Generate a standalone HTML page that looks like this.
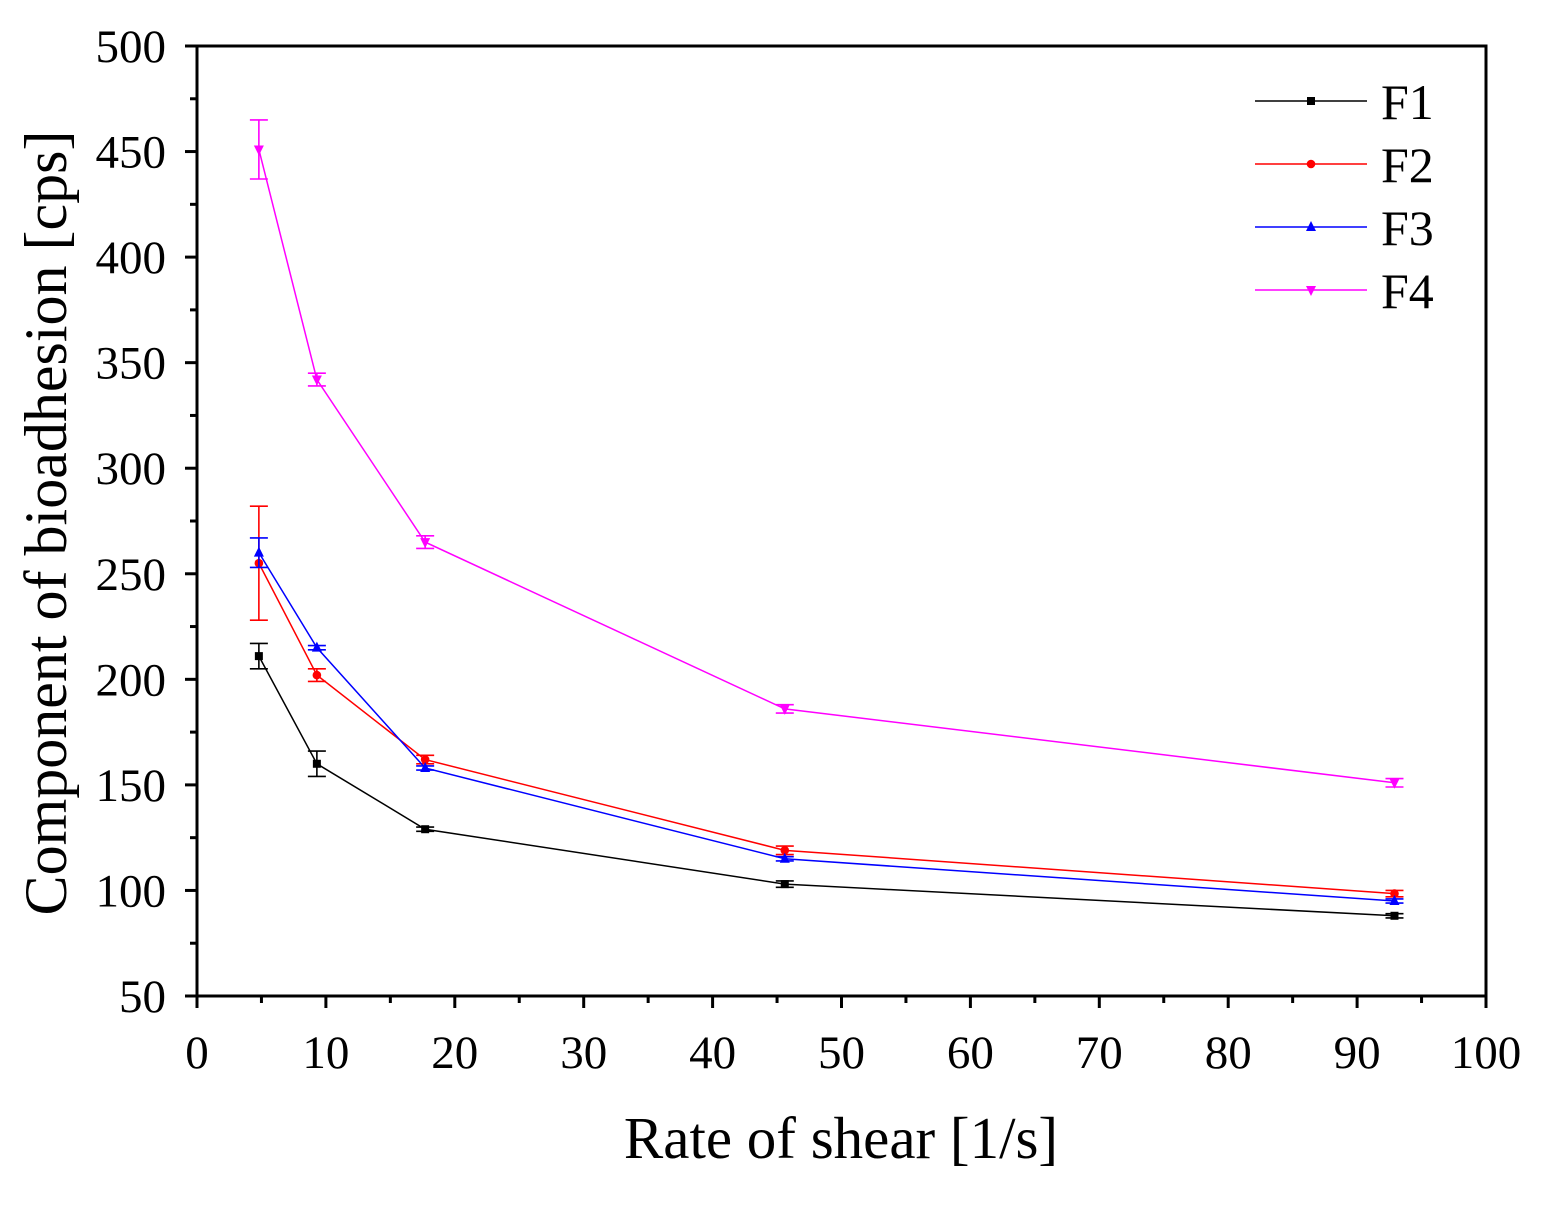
<!DOCTYPE html>
<html><head><meta charset="utf-8"><style>body{margin:0;background:#fff}svg{display:block}</style></head>
<body>
<svg id="chart" width="1560" height="1211" xmlns="http://www.w3.org/2000/svg" font-family="Liberation Serif, serif">
<g id="g"></g>
</svg>
<script>
const xVals=[4.8,9.3,17.7,45.6,92.9];
const f1=[211,160,129,103,88];
const f1Err=[6,6,1,1.5,1];
const f2=[255,202,162,119,98.5];
const f2Err=[27,3,2,2,1.5];
const f3=[260,215,158,115,95];
const f3Err=[7,1,1,1,1];
const f4=[451,342,265,186,151];
const f4Err=[14,3,3,2,2];
const xTicks=[0,10,20,30,40,50,60,70,80,90,100];
const yTicks=[50,100,150,200,250,300,350,400,450,500];
const seriesNames=["F1","F2","F3","F4"];
const colors=["#000","#f00","#00f","#f0f"];
const X0=197,X1=1486,Y0=996,Y1=46;
const sx=v=>X0+(v-0)/(100-0)*(X1-X0);
const sy=v=>Y0-(v-50)/(500-50)*(Y0-Y1);
const g=document.getElementById('g');
const NS="http://www.w3.org/2000/svg";
function el(t,a,p){const e=document.createElementNS(NS,t);for(const k in a)e.setAttribute(k,a[k]);(p||g).appendChild(e);return e;}
let fr=el('rect',{x:X0,y:Y1,width:X1-X0,height:Y0-Y1,fill:'none',stroke:'#000','stroke-width':3});


for(let v=0;v<=100;v+=5){const major=v%10===0;const l=el('line',{x1:sx(v),x2:sx(v),y1:Y0,y2:Y0+(major?12:7),stroke:'#000','stroke-width':3});

}
xTicks.forEach(v=>{const t=el('text',{x:sx(v),y:1068,'font-size':47,'text-anchor':'middle'});t.textContent=v;

});
for(let v=50;v<=500;v+=25){const major=v%50===0;const l=el('line',{x1:X0,x2:X0-(major?12:7),y1:sy(v),y2:sy(v),stroke:'#000','stroke-width':3});

}
yTicks.forEach(v=>{const t=el('text',{x:166,y:sy(v)+16,'font-size':47,'text-anchor':'end'});t.textContent=v;

});
let xt=el('text',{x:841,y:1158,'font-size':59,'text-anchor':'middle'});xt.textContent='Rate of shear [1/s]';


let yt=el('text',{x:0,y:0,'font-size':60,'text-anchor':'middle',transform:'translate(66,523) rotate(-90)'});yt.textContent='Component of bioadhesion [cps]';


function marker(i,x,y,c,parent){
 if(i===0)return el('rect',{x:x-4,y:y-4,width:8,height:8,fill:c},parent);
 if(i===1)return el('circle',{cx:x,cy:y,r:4.3,fill:c},parent);
 if(i===2)return el('polygon',{points:`${x},${y-6} ${x-5},${y+4} ${x+5},${y+4}`,fill:c},parent);
 return el('polygon',{points:`${x},${y+6} ${x-5},${y-4} ${x+5},${y-4}`,fill:c},parent);
}
const data=[[f1,f1Err],[f2,f2Err],[f3,f3Err],[f4,f4Err]];
data.forEach(([ys,es],i)=>{
 const c=colors[i];
 const sg=el('g',{});
 
 
 el('polyline',{points:xVals.map((x,j)=>sx(x)+','+sy(ys[j])).join(' '),fill:'none',stroke:c,'stroke-width':1.5},sg);
 xVals.forEach((x,j)=>{
  const px=sx(x),hi=sy(ys[j]+es[j]),lo=sy(ys[j]-es[j]);
  const eb=el('path',{d:`M${px},${hi}V${lo}M${px-9},${hi}h18M${px-9},${lo}h18`,stroke:c,'stroke-width':1.6,fill:'none'},sg);
  
  
  const m=marker(i,px,sy(ys[j]),c,sg);
  
  
 });
 const ly=101+i*63;
 const lg=el('g',{},sg);
 
 
 el('line',{x1:1255,x2:1367,y1:ly,y2:ly,stroke:c,'stroke-width':1.5},lg);
 marker(i,1311,ly,c,lg);
 const t=el('text',{x:1381,y:ly+18,'font-size':50},lg);t.textContent=seriesNames[i];
});
</script>
</body></html>
